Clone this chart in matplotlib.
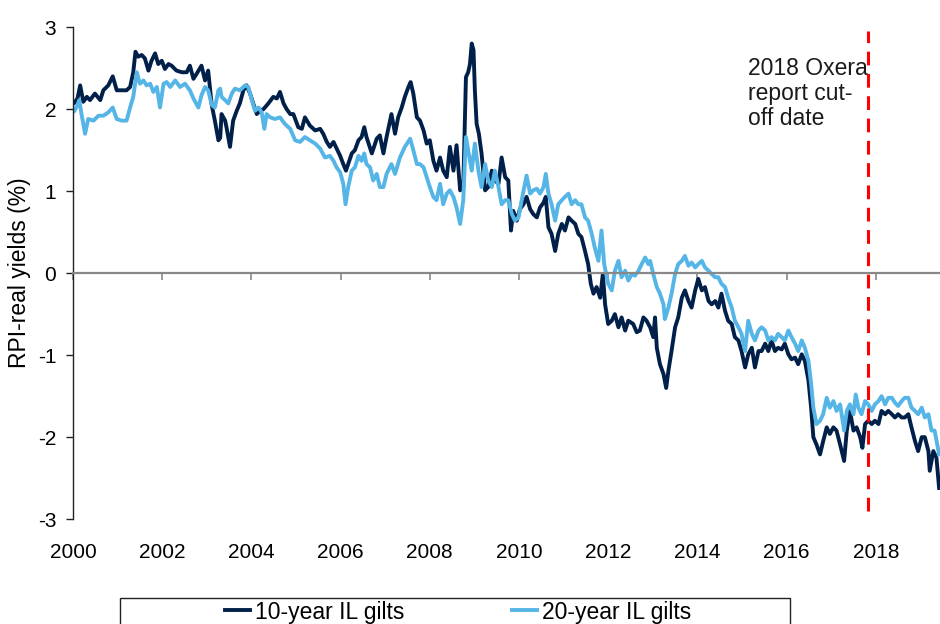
import matplotlib
matplotlib.use("Agg")
import matplotlib.pyplot as plt
from matplotlib.patches import Rectangle

plt.rcParams["font.family"] = ["Liberation Sans", "DejaVu Sans"]

# 10-year index-linked gilt real yields (decimal year, %)
dates_10y = [
    2000.03, 2000.10, 2000.16, 2000.23, 2000.31, 2000.38, 2000.49, 2000.61, 2000.68, 2000.79,
    2000.89, 2000.98, 2001.09, 2001.20, 2001.28, 2001.35, 2001.40, 2001.46, 2001.54, 2001.61,
    2001.69, 2001.76, 2001.84, 2001.91, 2001.99, 2002.06, 2002.14, 2002.21, 2002.32, 2002.44,
    2002.55, 2002.62, 2002.70, 2002.77, 2002.88, 2002.96, 2003.03, 2003.11, 2003.18, 2003.26,
    2003.30, 2003.33, 2003.41, 2003.44, 2003.52, 2003.59, 2003.67, 2003.74, 2003.82, 2003.89,
    2003.97, 2004.04, 2004.12, 2004.19, 2004.27, 2004.38, 2004.49, 2004.57, 2004.64, 2004.72,
    2004.79, 2004.87, 2004.94, 2005.05, 2005.13, 2005.20, 2005.31, 2005.43, 2005.54, 2005.61,
    2005.69, 2005.76, 2005.84, 2005.91, 2005.99, 2006.06, 2006.12, 2006.17, 2006.25, 2006.32,
    2006.40, 2006.47, 2006.53, 2006.58, 2006.70, 2006.81, 2006.88, 2006.96, 2007.03, 2007.14,
    2007.22, 2007.29, 2007.37, 2007.44, 2007.52, 2007.57, 2007.63, 2007.71, 2007.78, 2007.86,
    2007.93, 2008.00, 2008.08, 2008.15, 2008.23, 2008.30, 2008.38, 2008.45, 2008.53, 2008.60,
    2008.68, 2008.75, 2008.81, 2008.86, 2008.90, 2008.94, 2008.98, 2009.01, 2009.05, 2009.10,
    2009.16, 2009.24, 2009.31, 2009.39, 2009.46, 2009.54, 2009.61, 2009.69, 2009.76, 2009.82,
    2009.87, 2009.95, 2010.02, 2010.10, 2010.17, 2010.25, 2010.32, 2010.40, 2010.47, 2010.55,
    2010.60, 2010.66, 2010.73, 2010.81, 2010.88, 2010.96, 2011.03, 2011.11, 2011.18, 2011.26,
    2011.33, 2011.40, 2011.48, 2011.55, 2011.61, 2011.67, 2011.74, 2011.82, 2011.88, 2011.93,
    2012.00, 2012.08, 2012.15, 2012.23, 2012.30, 2012.38, 2012.45, 2012.56, 2012.64, 2012.71,
    2012.79, 2012.86, 2012.94, 2013.01, 2013.05, 2013.09, 2013.16, 2013.24, 2013.30, 2013.35,
    2013.42, 2013.50, 2013.57, 2013.65, 2013.72, 2013.80, 2013.87, 2013.95, 2014.02, 2014.10,
    2014.17, 2014.25, 2014.32, 2014.40, 2014.47, 2014.54, 2014.62, 2014.69, 2014.77, 2014.84,
    2014.92, 2014.99, 2015.07, 2015.14, 2015.22, 2015.29, 2015.37, 2015.44, 2015.52, 2015.59,
    2015.66, 2015.74, 2015.81, 2015.89, 2015.96, 2016.04, 2016.11, 2016.19, 2016.26, 2016.34,
    2016.41, 2016.49, 2016.55, 2016.60, 2016.67, 2016.75, 2016.82, 2016.90, 2016.97, 2017.05,
    2017.12, 2017.20, 2017.29, 2017.35, 2017.42, 2017.50, 2017.57, 2017.65, 2017.70, 2017.76,
    2017.83, 2017.91, 2017.98, 2018.06, 2018.13, 2018.21, 2018.28, 2018.36, 2018.43, 2018.50,
    2018.58, 2018.65, 2018.73, 2018.80, 2018.88, 2018.95, 2019.03, 2019.10, 2019.18, 2019.21,
    2019.29, 2019.36, 2019.42,
]
yields_10y = [
    2.08, 2.13, 2.29, 2.09, 2.15, 2.11, 2.19, 2.11, 2.23, 2.29,
    2.40, 2.23, 2.23, 2.23, 2.27, 2.45, 2.70, 2.64, 2.66, 2.62,
    2.47, 2.59, 2.68, 2.55, 2.59, 2.49, 2.55, 2.53, 2.47, 2.45,
    2.45, 2.53, 2.37, 2.43, 2.53, 2.35, 2.47, 2.05, 1.86, 1.62,
    1.65, 1.94, 1.86, 1.78, 1.54, 1.86, 1.98, 2.07, 2.23, 2.29,
    2.19, 2.07, 1.94, 1.98, 2.00, 2.07, 2.15, 2.13, 2.21, 2.07,
    2.00, 1.94, 1.94, 1.78, 1.76, 1.90, 1.80, 1.74, 1.76, 1.70,
    1.60, 1.54, 1.60, 1.52, 1.43, 1.33, 1.25, 1.33, 1.46, 1.50,
    1.62, 1.66, 1.78, 1.66, 1.46, 1.64, 1.68, 1.46, 1.66, 1.94,
    1.70, 1.90, 2.02, 2.15, 2.27, 2.33, 2.19, 1.90, 1.86, 1.74,
    1.58, 1.62, 1.37, 1.25, 1.41, 1.25, 1.17, 1.54, 1.25, 1.56,
    1.01, 1.05, 2.39, 2.45, 2.55, 2.80, 2.72, 2.23, 1.82, 1.70,
    1.46, 1.01, 1.05, 1.25, 1.13, 1.09, 1.41, 1.17, 1.13, 0.52,
    0.76, 0.64, 0.78, 0.84, 0.93, 0.78, 0.72, 0.68, 0.80, 0.86,
    0.93, 0.56, 0.48, 0.27, 0.48, 0.60, 0.52, 0.68, 0.64, 0.60,
    0.48, 0.44, 0.27, 0.11, -0.13, -0.25, -0.17, -0.30, -0.01, -0.38,
    -0.62, -0.58, -0.50, -0.66, -0.54, -0.70, -0.58, -0.62, -0.72, -0.70,
    -0.54, -0.58, -0.66, -0.78, -0.54, -0.91, -1.11, -1.23, -1.40, -1.19,
    -0.95, -0.66, -0.54, -0.30, -0.21, -0.34, -0.42, -0.21, -0.07, -0.21,
    -0.17, -0.34, -0.38, -0.34, -0.42, -0.25, -0.46, -0.58, -0.62, -0.78,
    -0.82, -0.95, -1.15, -0.99, -0.91, -1.15, -0.95, -0.95, -0.86, -0.95,
    -0.82, -0.95, -0.91, -0.93, -0.86, -0.99, -1.05, -1.03, -1.11, -0.99,
    -1.07, -1.31, -1.64, -2.00, -2.09, -2.21, -2.05, -1.88, -1.96, -1.88,
    -1.92, -2.09, -2.29, -1.92, -1.68, -1.92, -1.88, -2.00, -2.13, -1.84,
    -1.80, -1.84, -1.80, -1.84, -1.68, -1.72, -1.68, -1.72, -1.76, -1.72,
    -1.76, -1.76, -1.72, -1.88, -2.05, -2.17, -2.00, -2.00, -2.17, -2.41,
    -2.17, -2.25, -2.62,
]

# 20-year index-linked gilt real yields (decimal year, %)
dates_20y = [
    2000.03, 2000.10, 2000.14, 2000.19, 2000.27, 2000.34, 2000.46, 2000.57, 2000.68, 2000.79,
    2000.89, 2000.98, 2001.09, 2001.20, 2001.28, 2001.35, 2001.43, 2001.50, 2001.58, 2001.65,
    2001.73, 2001.80, 2001.88, 2001.95, 2002.03, 2002.10, 2002.18, 2002.29, 2002.40, 2002.51,
    2002.62, 2002.70, 2002.81, 2002.88, 2002.96, 2003.03, 2003.11, 2003.18, 2003.26, 2003.30,
    2003.33, 2003.41, 2003.48, 2003.56, 2003.63, 2003.74, 2003.86, 2003.93, 2004.01, 2004.08,
    2004.16, 2004.23, 2004.29, 2004.34, 2004.42, 2004.53, 2004.64, 2004.75, 2004.87, 2004.98,
    2005.09, 2005.20, 2005.31, 2005.43, 2005.54, 2005.65, 2005.76, 2005.84, 2005.91, 2005.99,
    2006.06, 2006.11, 2006.17, 2006.25, 2006.32, 2006.40, 2006.47, 2006.53, 2006.58, 2006.66,
    2006.73, 2006.81, 2006.88, 2006.96, 2007.03, 2007.14, 2007.22, 2007.33, 2007.44, 2007.56,
    2007.63, 2007.71, 2007.78, 2007.86, 2007.93, 2008.00, 2008.08, 2008.15, 2008.23, 2008.30,
    2008.38, 2008.45, 2008.53, 2008.60, 2008.68, 2008.75, 2008.81, 2008.86, 2008.94, 2009.01,
    2009.09, 2009.16, 2009.24, 2009.31, 2009.39, 2009.46, 2009.54, 2009.61, 2009.69, 2009.76,
    2009.84, 2009.91, 2009.99, 2010.06, 2010.17, 2010.25, 2010.32, 2010.40, 2010.47, 2010.55,
    2010.60, 2010.66, 2010.73, 2010.81, 2010.88, 2010.96, 2011.03, 2011.11, 2011.18, 2011.26,
    2011.33, 2011.40, 2011.48, 2011.55, 2011.63, 2011.70, 2011.78, 2011.85, 2011.91, 2012.00,
    2012.08, 2012.15, 2012.23, 2012.30, 2012.38, 2012.45, 2012.53, 2012.60, 2012.68, 2012.75,
    2012.83, 2012.90, 2012.94, 2013.01, 2013.09, 2013.16, 2013.24, 2013.27, 2013.35, 2013.42,
    2013.50, 2013.57, 2013.65, 2013.72, 2013.80, 2013.87, 2013.95, 2014.02, 2014.10, 2014.17,
    2014.25, 2014.32, 2014.40, 2014.47, 2014.54, 2014.62, 2014.69, 2014.77, 2014.84, 2014.92,
    2014.99, 2015.07, 2015.14, 2015.22, 2015.29, 2015.37, 2015.44, 2015.52, 2015.59, 2015.66,
    2015.74, 2015.81, 2015.89, 2015.96, 2016.04, 2016.11, 2016.19, 2016.26, 2016.34, 2016.41,
    2016.49, 2016.55, 2016.60, 2016.67, 2016.75, 2016.82, 2016.90, 2016.97, 2017.05, 2017.12,
    2017.20, 2017.29, 2017.35, 2017.42, 2017.50, 2017.55, 2017.61, 2017.68, 2017.76, 2017.83,
    2017.91, 2017.98, 2018.06, 2018.13, 2018.21, 2018.28, 2018.36, 2018.43, 2018.50, 2018.58,
    2018.65, 2018.73, 2018.80, 2018.88, 2018.95, 2019.03, 2019.10, 2019.18, 2019.25, 2019.32,
    2019.42,
]
yields_20y = [
    1.98, 2.05, 2.11, 1.94, 1.70, 1.88, 1.86, 1.92, 1.92, 1.96,
    2.02, 1.88, 1.86, 1.86, 2.02, 2.15, 2.45, 2.31, 2.35, 2.29,
    2.31, 2.21, 2.27, 2.02, 2.31, 2.33, 2.27, 2.35, 2.27, 2.31,
    2.23, 2.13, 2.02, 2.17, 2.27, 2.23, 2.05, 2.02, 2.23, 2.25,
    2.15, 2.11, 2.07, 2.19, 2.25, 2.23, 2.29, 2.27, 2.11, 1.98,
    2.02, 1.96, 1.76, 1.94, 1.90, 1.88, 1.90, 1.82, 1.76, 1.62,
    1.60, 1.66, 1.62, 1.58, 1.52, 1.41, 1.43, 1.37, 1.29, 1.23,
    1.09, 0.84, 1.05, 1.25, 1.29, 1.43, 1.37, 1.46, 1.33, 1.29,
    1.13, 1.21, 1.05, 1.05, 1.21, 1.33, 1.21, 1.41, 1.54, 1.64,
    1.50, 1.33, 1.33, 1.29, 1.17, 1.05, 0.93, 0.89, 1.09, 0.84,
    0.97, 1.01, 0.93, 0.80, 0.60, 0.89, 1.66, 1.50, 1.25, 1.58,
    1.25, 1.05, 1.33, 1.13, 1.05, 1.25, 1.05, 0.84, 0.89, 0.89,
    0.72, 0.64, 0.68, 0.89, 1.19, 0.97, 1.01, 1.03, 0.97, 1.05,
    1.21, 0.97, 0.84, 0.64, 0.84, 0.89, 0.93, 0.97, 0.84, 0.89,
    0.84, 0.84, 0.68, 0.64, 0.48, 0.31, 0.15, 0.52, 0.11, -0.13,
    -0.21, 0.03, 0.15, -0.05, 0.03, -0.09, -0.01, -0.03, 0.03, 0.11,
    0.19, 0.11, 0.15, -0.01, -0.17, -0.25, -0.38, -0.56, -0.42, -0.25,
    -0.01, 0.11, 0.15, 0.21, 0.09, 0.13, 0.07, 0.11, 0.15, 0.07,
    0.03, -0.01, -0.05, -0.05, -0.13, -0.17, -0.30, -0.42, -0.58, -0.66,
    -0.74, -0.95, -0.58, -0.74, -0.82, -0.70, -0.66, -0.70, -0.82, -0.78,
    -0.82, -0.74, -0.78, -0.82, -0.70, -0.78, -0.86, -0.95, -0.82, -0.91,
    -1.07, -1.35, -1.64, -1.84, -1.80, -1.72, -1.52, -1.64, -1.56, -1.68,
    -1.60, -1.92, -1.68, -1.60, -1.72, -1.48, -1.64, -1.72, -1.56, -1.60,
    -1.68, -1.60, -1.56, -1.50, -1.60, -1.52, -1.52, -1.58, -1.62, -1.56,
    -1.52, -1.52, -1.64, -1.68, -1.72, -1.64, -1.76, -1.72, -1.92, -1.92,
    -2.21,
]

year_ticks = [2000, 2002, 2004, 2006, 2008, 2010, 2012, 2014, 2016, 2018]
yield_ticks = [-3, -2, -1, 0, 1, 2, 3]
cutoff_date = 2017.83
cutoff_label = "2018 Oxera\nreport cut-\noff date"

DARK = "#00204A"
LIGHT = "#55B5E6"
AXIS_GREY = "#888888"
FS_TICK = 15
FS_TEXT = 16.5

fig = plt.figure(figsize=(9.4, 6.24), dpi=100)
ax = fig.add_axes([0.0777, 0.168, 0.9223, 0.7885])

ax.plot(dates_10y, yields_10y, color=DARK, lw=2.8, label="10-year IL gilts",
        solid_joinstyle="round")
ax.plot(dates_20y, yields_20y, color=LIGHT, lw=2.8, label="20-year IL gilts",
        solid_joinstyle="round")

ax.vlines(cutoff_date, -2.9, 2.95, colors="#FF0000", lw=2.2,
          linestyles=(0, (4.5, 2.8)), zorder=5)
ax.text(2015.13, 2.63, cutoff_label, fontsize=FS_TEXT, ha="left", va="top",
        linespacing=1.1, color="#1a1a1a")

ax.set_xlim(2000, 2019.44)
ax.set_ylim(-3, 3)

# axis styling: category axis crosses at zero, labels sit at the bottom
for side in ("top", "right"):
    ax.spines[side].set_visible(False)
ax.spines["bottom"].set_position(("data", 0))
ax.spines["bottom"].set_color(AXIS_GREY)
ax.spines["bottom"].set_linewidth(1.6)
ax.spines["left"].set_color("#222222")
ax.spines["left"].set_linewidth(1.0)

ax.set_xticks(year_ticks)
ax.tick_params(axis="x", direction="out", length=5, width=1.2, color=AXIS_GREY,
               labelbottom=False)
ax.set_yticks(yield_ticks)
ax.set_yticklabels([str(v) for v in yield_ticks])
ax.tick_params(axis="y", direction="out", length=5, width=1.0, color="#222222",
               labelsize=FS_TICK, pad=7)
ax.set_ylabel("RPI-real yields (%)", fontsize=FS_TEXT, labelpad=5)

sec = ax.secondary_xaxis(0.0)
sec.set_xticks(year_ticks)
sec.set_xticklabels([str(y) for y in year_ticks])
sec.spines["bottom"].set_visible(False)
sec.tick_params(axis="x", length=0, pad=17, labelsize=FS_TICK)

# legend in a framed box along the bottom edge
fig.add_artist(Rectangle((120 / 940, -0.05), (790 - 120) / 940, 0.05 + 26 / 624,
                         transform=fig.transFigure, fill=False,
                         edgecolor="#222222", lw=1.0))
fig.legend(loc="center", bbox_to_anchor=(458 / 940, 12 / 624), ncol=2,
           frameon=False, fontsize=FS_TEXT, handlelength=1.1, handletextpad=0.2,
           columnspacing=4.7, borderpad=0)

fig.savefig("out.png", dpi=100)
